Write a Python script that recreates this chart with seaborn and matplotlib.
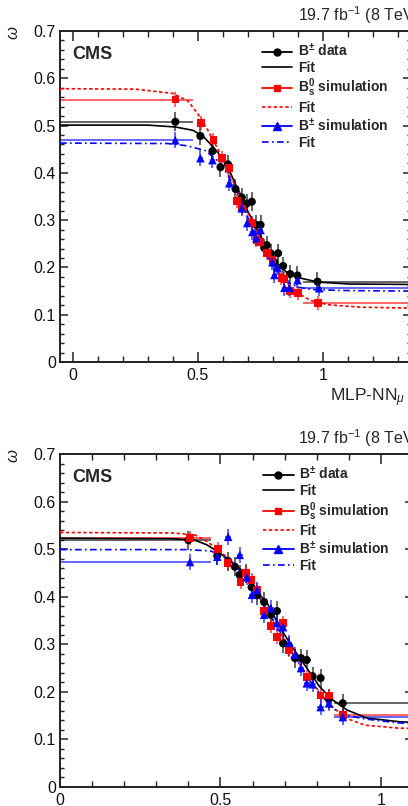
import numpy as np
import pandas as pd
import matplotlib
matplotlib.use("Agg")
import matplotlib.pyplot as plt
from matplotlib.lines import Line2D
from matplotlib.ticker import MultipleLocator, FixedLocator
import seaborn as sns

# ---------------- data ----------------
# top panel
top_data_x = [0.41, 0.51, 0.558, 0.59, 0.62, 0.65, 0.675, 0.695, 0.715, 0.733, 0.75, 0.765,
              0.775, 0.79, 0.805, 0.82, 0.84, 0.868, 0.897, 0.977]
top_data_y = [0.508, 0.478, 0.446, 0.412, 0.418, 0.366, 0.348, 0.335, 0.339, 0.29, 0.29, 0.241,
              0.247, 0.23, 0.211, 0.23, 0.203, 0.186, 0.183, 0.170]
top_bs_x = [0.41, 0.513, 0.562, 0.597, 0.625, 0.655, 0.675, 0.717, 0.733, 0.75, 0.775, 0.797,
            0.833, 0.845, 0.868, 0.90, 0.98]
top_bs_y = [0.555, 0.505, 0.469, 0.431, 0.41, 0.34, 0.325, 0.294, 0.258, 0.254, 0.23, 0.216,
            0.178, 0.175, 0.150, 0.146, 0.125]
top_bu_x = [0.41, 0.51, 0.558, 0.625, 0.675, 0.697, 0.717, 0.733, 0.75, 0.797, 0.805, 0.817,
            0.845, 0.865, 0.897, 0.984]
top_bu_y = [0.469, 0.431, 0.427, 0.378, 0.325, 0.294, 0.275, 0.262, 0.279, 0.211, 0.184, 0.20,
            0.157, 0.157, 0.173, 0.156]

top_fit_data_x = [-0.05, 0.30, 0.41, 0.48, 0.52, 0.56, 0.595, 0.625, 0.653, 0.665, 0.697, 0.733,
                  0.773, 0.813, 0.853, 0.904, 0.98, 1.10, 1.35]
top_fit_data_y = [0.501, 0.501, 0.497, 0.490, 0.478, 0.455, 0.433, 0.406, 0.372, 0.36, 0.321, 0.285,
                  0.243, 0.211, 0.19, 0.178, 0.169, 0.165, 0.164]
top_fit_bs_x = [-0.05, 0.25, 0.40, 0.46, 0.50, 0.54, 0.58, 0.62, 0.66, 0.70, 0.74, 0.78, 0.82,
                0.86, 0.90, 0.95, 1.02, 1.15, 1.35]
top_fit_bs_y = [0.578, 0.577, 0.568, 0.552, 0.525, 0.49, 0.45, 0.405, 0.36, 0.315, 0.27, 0.23, 0.195,
                0.165, 0.145, 0.13, 0.121, 0.116, 0.114]
top_fit_bu_x = [-0.05, 0.38, 0.46, 0.53, 0.58, 0.62, 0.66, 0.70, 0.74, 0.78, 0.82, 0.86, 0.90,
                0.96, 1.10, 1.35]
top_fit_bu_y = [0.463, 0.462, 0.457, 0.447, 0.425, 0.395, 0.355, 0.305, 0.26, 0.22, 0.19, 0.168,
                0.158, 0.153, 0.151, 0.150]

# bottom panel
bot_data_x = [0.40, 0.49, 0.524, 0.545, 0.56, 0.58, 0.597, 0.614, 0.636, 0.657, 0.676, 0.695,
              0.714, 0.732, 0.751, 0.769, 0.787, 0.812, 0.838, 0.881]
bot_data_y = [0.519, 0.486, 0.475, 0.463, 0.446, 0.448, 0.42, 0.403, 0.389, 0.362, 0.37, 0.302,
              0.296, 0.271, 0.271, 0.267, 0.233, 0.229, 0.185, 0.176]
bot_bs_x = [0.405, 0.493, 0.522, 0.563, 0.58, 0.597, 0.614, 0.636, 0.657, 0.676, 0.695, 0.714,
            0.769, 0.812, 0.838, 0.881]
bot_bs_y = [0.523, 0.50, 0.471, 0.431, 0.45, 0.435, 0.414, 0.37, 0.338, 0.315, 0.345, 0.288,
            0.231, 0.192, 0.192, 0.152]
bot_bu_x = [0.405, 0.49, 0.524, 0.56, 0.582, 0.598, 0.614, 0.636, 0.657, 0.676, 0.695, 0.714,
            0.732, 0.751, 0.769, 0.787, 0.812, 0.838, 0.881]
bot_bu_y = [0.473, 0.484, 0.526, 0.488, 0.441, 0.404, 0.414, 0.362, 0.376, 0.345, 0.336, 0.303,
            0.278, 0.25, 0.218, 0.216, 0.168, 0.176, 0.147]

bot_fit_data_x = [0.0, 0.35, 0.42, 0.458, 0.498, 0.539, 0.583, 0.614, 0.645, 0.685, 0.726, 0.769,
                  0.81, 0.85, 0.894, 0.956, 1.06, 1.10]
bot_fit_data_y = [0.523, 0.522, 0.519, 0.509, 0.492, 0.471, 0.446, 0.41, 0.387, 0.336, 0.292, 0.25,
                  0.21, 0.183, 0.162, 0.145, 0.137, 0.136]
bot_fit_bs_x = [0.0, 0.35, 0.42, 0.46, 0.50, 0.54, 0.58, 0.62, 0.66, 0.70, 0.74, 0.78, 0.82,
                0.85, 0.89, 0.95, 1.05, 1.10]
bot_fit_bs_y = [0.535, 0.534, 0.53, 0.515, 0.495, 0.47, 0.44, 0.40, 0.355, 0.31, 0.265, 0.225,
                0.19, 0.168, 0.145, 0.13, 0.124, 0.123]
bot_fit_bu_x = [0.0, 0.40, 0.47, 0.50, 0.54, 0.58, 0.62, 0.66, 0.70, 0.74, 0.78, 0.82, 0.85,
                0.89, 0.95, 1.05, 1.10]
bot_fit_bu_y = [0.499, 0.499, 0.496, 0.488, 0.47, 0.44, 0.40, 0.355, 0.31, 0.265, 0.222, 0.188,
                0.165, 0.151, 0.143, 0.135, 0.133]

# vertical error sizes and bin edges (first bin upper edge, last bin lower edge)
yerr_data, yerr_bs, yerr_bu = 0.02, 0.015, 0.017
top_first_hi, top_last_lo = 0.48, 0.92
bot_first_hi, bot_last_lo = 0.47, 0.855

lumi_text = r"19.7 fb$^{-1}$ (8 TeV)"
legend_labels = [r"$\mathbf{B^{\pm}}$ data", "Fit", r"$\mathbf{B^{0}_{s}}$ simulation", "Fit",
                 r"$\mathbf{B^{\pm}}$ simulation", "Fit"]

# ---------------- style ----------------
sns.set_theme(style="ticks")
plt.rcParams["font.family"] = ["Liberation Sans", "DejaVu Sans"]
plt.rcParams["mathtext.fontset"] = "custom"
plt.rcParams["mathtext.rm"] = "Liberation Sans"
plt.rcParams["mathtext.bf"] = "Liberation Sans:bold"
plt.rcParams["mathtext.it"] = "Liberation Sans:italic"

RED = "#ff0000"
BLUE = "#0000ff"
BLACK = "#000000"

W, H = 408, 806
fig = plt.figure(figsize=(W / 100, H / 100), dpi=100)


def px_axes(left, top, right, bottom):
    return fig.add_axes([left / W, 1 - bottom / H, (right - left) / W, (bottom - top) / H])


def xerrs(xs, first_hi, last_lo, xmin):
    lo = [0.01] * len(xs)
    hi = [0.01] * len(xs)
    lo[0] = xs[0] - xmin + 0.1
    hi[0] = first_hi - xs[0]
    lo[-1] = xs[-1] - last_lo
    hi[-1] = 1.0
    return [lo, hi]


def draw_panel(ax, series, fits, xlim, first_hi, last_lo):
    for (xs, ys, err, color, marker, ms) in series:
        ax.errorbar(xs, ys, yerr=err, xerr=xerrs(xs, first_hi, last_lo, xlim[0]), fmt="none",
                    ecolor=color, elinewidth=1.3, alpha=0.65, zorder=2)
    for (xs, ys, color, ls, lw) in fits:
        df = pd.DataFrame({"x": xs, "y": ys})
        sns.lineplot(data=df, x="x", y="y", ax=ax, color=color, linestyle=ls, lw=lw,
                     sort=False, estimator=None, zorder=3)
    for (xs, ys, err, color, marker, ms) in series:
        df = pd.DataFrame({"x": xs, "y": ys})
        sns.scatterplot(data=df, x="x", y="y", ax=ax, color=color, marker=marker, s=ms,
                        edgecolor="none", linewidth=0, zorder=4)

    ax.set_xlim(*xlim)
    ax.set_ylim(0, 0.7)
    ax.set_xlabel("")
    ax.set_ylabel("")
    ax.xaxis.set_major_locator(FixedLocator([0, 0.5, 1]))
    ax.xaxis.set_minor_locator(MultipleLocator(0.1))
    ax.yaxis.set_major_locator(MultipleLocator(0.1))
    ax.yaxis.set_minor_locator(MultipleLocator(0.02))
    ax.set_xticklabels(["0", "0.5", "1"])
    ax.set_yticks([0, 0.1, 0.2, 0.3, 0.4, 0.5, 0.6, 0.7])
    ax.set_yticklabels(["0", "0.1", "0.2", "0.3", "0.4", "0.5", "0.6", "0.7"])
    ax.tick_params(which="both", direction="in", top=True, right=True, colors="#222222",
                   labelsize=11.5, labelcolor="#111111")
    ax.tick_params(axis="x", which="major", length=7, width=1.1, pad=4)
    ax.tick_params(axis="x", which="minor", length=4, width=1.0)
    ax.tick_params(axis="y", which="major", length=6, width=1.1, pad=3)
    ax.tick_params(axis="y", which="minor", length=3, width=1.0)
    for sp in ax.spines.values():
        sp.set_linewidth(1.4)
        sp.set_color("#222222")

    ax.text(0.035, 0.955, "CMS", transform=ax.transAxes, fontsize=13, fontweight="bold",
            ha="left", va="top")

    handles = [
        Line2D([], [], color=BLACK, marker="o", markersize=5, lw=1.3),
        Line2D([], [], color=BLACK, lw=1.2),
        Line2D([], [], color=RED, marker="s", markersize=5, lw=1.3),
        Line2D([], [], color=RED, lw=1.2, linestyle=(0, (2, 1.5))),
        Line2D([], [], color=BLUE, marker="^", markersize=5.5, lw=1.3),
        Line2D([], [], color=BLUE, lw=1.2, linestyle=(0, (4, 2, 1, 2))),
    ]
    ax.legend(handles, legend_labels, loc="upper left", bbox_to_anchor=(0.575, 0.966),
              frameon=False, prop={"weight": "bold", "size": 10},
              handlelength=2.2, handletextpad=0.4, labelspacing=0.12, borderpad=0,
              borderaxespad=0)


ax1 = px_axes(60, 31, 411, 362)
draw_panel(
    ax1,
    [(top_data_x, top_data_y, yerr_data, BLACK, "o", 34),
     (top_bs_x, top_bs_y, yerr_bs, RED, "s", 30),
     (top_bu_x, top_bu_y, yerr_bu, BLUE, "^", 38)],
    [(top_fit_data_x, top_fit_data_y, BLACK, "-", 1.2),
     (top_fit_bs_x, top_fit_bs_y, RED, (0, (2, 1.5)), 1.2),
     (top_fit_bu_x, top_fit_bu_y, BLUE, (0, (4, 2, 1, 2)), 1.2)],
    (-0.05, 1.35), top_first_hi, top_last_lo)

ax2 = px_axes(60, 454, 413, 787)
draw_panel(
    ax2,
    [(bot_data_x, bot_data_y, yerr_data, BLACK, "o", 34),
     (bot_bs_x, bot_bs_y, yerr_bs, RED, "s", 30),
     (bot_bu_x, bot_bu_y, yerr_bu, BLUE, "^", 38)],
    [(bot_fit_data_x, bot_fit_data_y, BLACK, "-", 1.2),
     (bot_fit_bs_x, bot_fit_bs_y, RED, (0, (2, 1.5)), 1.2),
     (bot_fit_bu_x, bot_fit_bu_y, BLUE, (0, (4, 2, 1, 2)), 1.2)],
    (0.0, 1.1), bot_first_hi, bot_last_lo)

# texts outside the frames (cut at the right edge, as in the original)
fig.text(298 / W, 1 - 15 / H, lumi_text, fontsize=11.5, ha="left", va="center")
fig.text(298 / W, 1 - 438 / H, lumi_text, fontsize=11.5, ha="left", va="center")
fig.text(13 / W, 1 - 33 / H, r"$\omega$", fontsize=12, rotation=90, ha="center", va="center")
fig.text(13 / W, 1 - 456 / H, r"$\omega$", fontsize=12, rotation=90, ha="center", va="center")
fig.text(330 / W, 1 - 398 / H, r"MLP-NN$_{\mu}$", fontsize=12.5, ha="left", va="center")

fig.savefig("out.png", dpi=100)
